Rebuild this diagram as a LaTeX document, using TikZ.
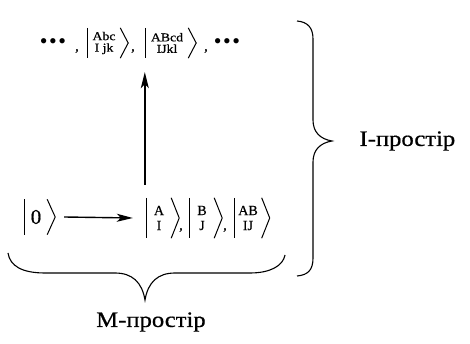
\documentclass[tikz,border=0pt]{standalone}
\usepackage{fontspec}
\setmainfont{Liberation Serif}
\newfontfamily\heavyserif[FakeBold=0.6]{Liberation Serif}
\usetikzlibrary{arrows.meta}
\begin{document}
\begin{tikzpicture}[x=1pt,y=1pt,
  ketc/.style={inner sep=0pt, align=center, font=\heavyserif\fontsize{12}{11.5}\selectfont},
  ketm/.style={inner sep=0pt, align=center, font=\heavyserif\fontsize{14}{15}\selectfont},
  ketbig/.style={inner sep=0pt, align=center, font=\heavyserif\fontsize{21}{22}\selectfont},
  bar/.style={line width=1.3pt},
  bra/.style={line width=1pt},
  arr/.style={line width=1.4pt, -{Stealth[length=16pt,width=8pt,inset=4pt]}},
  brc/.style={line width=1.1pt},
  lbl/.style={font=\heavyserif\fontsize{22}{24}\selectfont},
  punct/.style={inner sep=0pt, font=\heavyserif\fontsize{14}{14}\selectfont},
  dotsn/.style={inner sep=0pt, font=\fontsize{22}{22}\selectfont}]
\useasboundingbox (0,0) rectangle (470,344);
% top row
\node[dotsn] (d1) at (53,300) {•\hspace{1.5pt}•\hspace{1.5pt}•};
\node[punct] (c1) at (77,293) {,};
\node[ketc, minimum width=32pt, minimum height=30pt] (kAbc) at (104,301) {\scalebox{1.15}[1]{Abc}\\\scalebox{1.15}[1]{I jk}};
\node[punct] (c2) at (133,293) {,};
\node[ketc, minimum width=42pt, minimum height=30pt] (kABcd) at (167,301) {\scalebox{1.15}[1]{ABcd}\\\scalebox{1.15}[1]{IJkl}};
\node[punct] (c3) at (206,293) {,};
\node[dotsn] (d2) at (227,300) {•\hspace{1.5pt}•\hspace{1.5pt}•};
% bottom row
\node[ketbig, minimum width=22pt, minimum height=35pt] (k0) at (36,127) {0};
\node[ketm, minimum width=24pt, minimum height=40pt] (kA) at (159,126) {A\\I};
\node[punct] (c4) at (181,114) {,};
\node[ketm, minimum width=24pt, minimum height=40pt] (kB) at (202,126) {B\\J};
\node[punct] (c5) at (225,114) {,};
\node[ketm, minimum width=27pt, minimum height=40pt] (kAB) at (248,126) {AB\\IJ};
% ket brackets
\foreach \n in {k0,kA,kB,kAB,kAbc,kABcd} {
  \draw[bar] (\n.north west) -- (\n.south west);
  \draw[bra] (\n.north east) -- ([xshift=8pt]\n.east) -- (\n.south east);
}
% arrows
\draw[arr] ([xshift=17pt]k0.east) -- ([xshift=-14pt]kA.west);
\draw[arr] ([xshift=-2pt,yshift=13pt]kA.north west) -- ([xshift=-1pt,yshift=-14pt]kABcd.south west);
% braces
\draw[brc] (8,91) .. controls (10,78) and (22,71) .. (45,71) -- (115,71)
  .. controls (132,71) and (142,62) .. (145,44)
  .. controls (148,62) and (158,71) .. (175,71) -- (250,71)
  .. controls (270,71) and (283,78) .. (285,89);
\draw[brc] (297,323) .. controls (308,322) and (313,316) .. (313,305) -- (313,224)
  .. controls (313,212) and (320,205) .. (332,203)
  .. controls (320,201) and (313,194) .. (313,182) -- (313,86)
  .. controls (313,74) and (308,69) .. (297,68);
% labels
\node[lbl, anchor=west] (li) at (356,203) {\scalebox{1.12}[1]{І-простір}};
\node[lbl] (lm) at (151,22) {\scalebox{1.12}[1]{М-простір}};
\end{tikzpicture}
\end{document}
